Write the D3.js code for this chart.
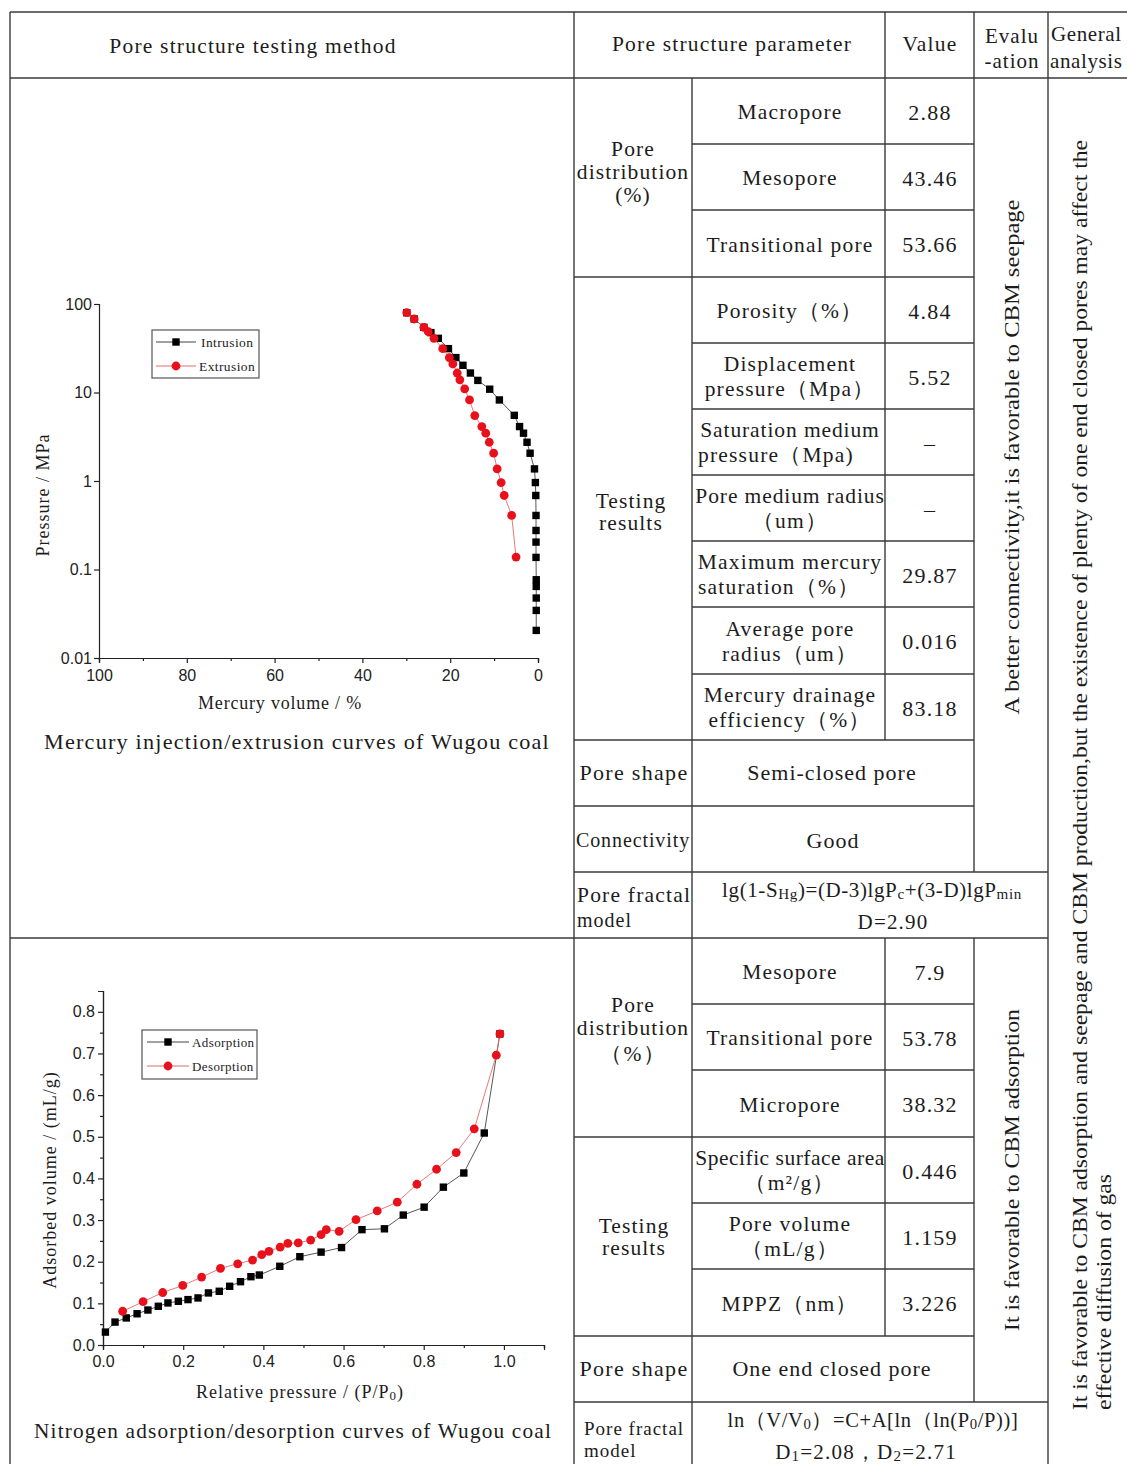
<!DOCTYPE html>
<html><head><meta charset="utf-8">
<script src="https://cdn.jsdelivr.net/npm/d3@7"></script>
<style>
body{margin:0;background:#fff}
svg text{font-family:"Liberation Serif","Times New Roman",serif;fill:#1c1c1c}
.tick text{font-family:"Liberation Sans",Arial,sans-serif;font-size:16px;fill:#222}
</style>
</head><body>
<svg id="fig" width="1127" height="1464"></svg>
<script>
// ---- Mercury injection / extrusion (Wugou coal) ----
const intrusionVolume   = [29.9, 28.2, 26.0, 24.4, 22.7, 20.4, 18.7, 17.1, 15.4, 13.7, 11.0, 8.8, 5.4, 4.2, 3.3, 2.5, 1.8, 0.8, 0.6, 0.5, 0.45, 0.45, 0.45, 0.45, 0.4, 0.4, 0.4, 0.4, 0.4];
const intrusionPressure = [79.8, 67.7, 54.5, 47.5, 40.9, 31.3, 24.8, 20.3, 16.6, 13.7, 10.9, 8.24, 5.52, 4.12, 3.47, 2.74, 2.06, 1.37, 0.96, 0.686, 0.408, 0.276, 0.204, 0.137, 0.0766, 0.0644, 0.0476, 0.0345, 0.0205];
const extrusionVolume   = [29.9, 28.2, 26.0, 25.0, 23.7, 21.7, 20.2, 19.4, 18.4, 17.8, 16.7, 15.6, 14.4, 12.8, 11.9, 11.1, 10.1, 9.3, 8.4, 7.7, 6.0, 5.0];
const extrusionPressure = [79.8, 67.7, 54.5, 48.7, 40.9, 31.3, 24.8, 21.0, 16.6, 13.9, 11.0, 8.24, 5.49, 4.12, 3.47, 2.74, 2.06, 1.37, 0.96, 0.686, 0.408, 0.138];
const volumeTicks   = [100, 80, 60, 40, 20, 0];
const volumeMinor   = [90, 70, 50, 30, 10];
const pressureTicks = [0.01, 0.1, 1, 10, 100];
const pressureTickLabels = ["0.01", "0.1", "1", "10", "100"];

// ---- Nitrogen adsorption / desorption (Wugou coal) ----
const adsorptionP = [0.006,0.030,0.058,0.085,0.112,0.138,0.162,0.188,0.212,0.237,0.263,0.290,0.316,0.343,0.369,0.390,0.441,0.491,0.544,0.595,0.646,0.702,0.749,0.801,0.849,0.900,0.951,0.99];
const adsorptionV = [0.031,0.055,0.065,0.075,0.084,0.093,0.101,0.105,0.109,0.113,0.125,0.129,0.141,0.152,0.164,0.168,0.189,0.212,0.223,0.234,0.277,0.279,0.312,0.331,0.379,0.413,0.509,0.747];
const desorptionP = [0.99,0.981,0.926,0.881,0.832,0.783,0.734,0.684,0.631,0.589,0.557,0.544,0.518,0.487,0.461,0.442,0.414,0.396,0.373,0.336,0.293,0.246,0.199,0.149,0.100,0.049];
const desorptionV = [0.747,0.696,0.519,0.462,0.422,0.386,0.343,0.322,0.301,0.273,0.277,0.265,0.252,0.245,0.244,0.235,0.225,0.217,0.204,0.195,0.184,0.163,0.143,0.126,0.104,0.081];
const relPTicks  = [0, 0.2, 0.4, 0.6, 0.8, 1.0];
const relPMinor  = [0.1, 0.3, 0.5, 0.7, 0.9, 1.1];
const volTicks   = [0, 0.1, 0.2, 0.3, 0.4, 0.5, 0.6, 0.7, 0.8];
const volMinor   = [0.05, 0.15, 0.25, 0.35, 0.45, 0.55, 0.65, 0.75];

// ---- Table contents ----
const mercuryParams = [["Macropore"], ["Mesopore"], ["Transitional pore"], ["Porosity（%）"],
  ["Displacement", "pressure（Mpa）"], ["Saturation medium", "pressure（Mpa)"], ["Pore medium radius", "（um）"],
  ["Maximum mercury", "saturation（%）"], ["Average pore", "radius（um）"], ["Mercury drainage", "efficiency（%）"]];
const mercuryValues = ["2.88", "43.46", "53.66", "4.84", "5.52", "–", "–", "29.87", "0.016", "83.18"];
const nitrogenParams = [["Mesopore"], ["Transitional pore"], ["Micropore"], ["Specific surface area", "（m²/g）"],
  ["Pore volume", "（mL/g）"], ["MPPZ（nm）"]];
const nitrogenValues = ["7.9", "53.78", "38.32", "0.446", "1.159", "3.226"];

const svg = d3.select("#fig");
svg.append("rect").attr("width", 1127).attr("height", 1464).attr("fill", "#fff");

// ---------- table grid ----------
const R = [78,144,210,277,343,409,475,541,607,674,740,806,872,938,1004,1070,1137,1203,1269,1336,1402];
const grid = svg.append("g").attr("stroke", "#3a3a3a").attr("stroke-width", 1.4).attr("fill", "none");
function seg(x1, y1, x2, y2) { grid.append("line").attr("x1", x1).attr("y1", y1).attr("x2", x2).attr("y2", y2); }
seg(10, 12, 1127, 12); seg(10, 78, 1127, 78); seg(10, 938, 1048, 938);
seg(10, 12, 10, 1464); seg(574, 12, 574, 1464); seg(692, 78, 692, 1464);
seg(885, 12, 885, 740); seg(885, 938, 885, 1336);
seg(974, 12, 974, 872); seg(974, 938, 974, 1402);
seg(1048, 12, 1048, 1464);
[144, 210, 343, 409, 475, 541, 607, 674, 1004, 1070, 1203, 1269].forEach(y => seg(692, y, 974, y));
[277, 740, 806, 1137, 1336].forEach(y => seg(574, y, 974, y));
[872, 1402].forEach(y => seg(574, y, 1048, y));

// ---------- text helper ----------
function txt(g, x, y, s, o = {}) {
  const t = g.append("text").attr("x", x).attr("y", y)
    .attr("text-anchor", o.anchor || "middle").attr("dominant-baseline", "central")
    .attr("font-size", o.size || 21.5).attr("letter-spacing", o.ls == null ? 1.2 : o.ls).text(s);
  if (o.len) t.attr("textLength", o.len).attr("lengthAdjust", "spacingAndGlyphs");
  return t;
}
const T = svg.append("g");
txt(T, 253, 46, "Pore structure testing method");
txt(T, 732, 44, "Pore structure parameter");
txt(T, 930, 44, "Value");
txt(T, 1012, 36, "Evalu", {size: 21, ls: 1});
txt(T, 1012, 61, "-ation", {size: 21, ls: 1});
txt(T, 1051, 34, "General", {anchor: "start", size: 21, ls: 0.6});
txt(T, 1050, 61, "analysis", {anchor: "start", size: 21, ls: 0.6});

function paramRows(params, values, first) {
  params.forEach((lines, i) => {
    const y0 = R[first + i], y1 = R[first + i + 1], cy = (y0 + y1) / 2;
    if (lines.length === 1) txt(T, 790, cy + 1, lines[0]);
    else {
      const n = lines[0].length;
      txt(T, 790, cy - 12, lines[0], {ls: n > 19 ? 0.5 : n > 16 ? 0.9 : 1.2});
      const left = /Mpa\)|saturation/.test(lines[1]);
      if (left) txt(T, 698, cy + 13, lines[1], {anchor: "start"});
      else txt(T, 790, cy + 13, lines[1]);
    }
    txt(T, 930, cy + 1, values[i], {size: 22});
  });
}
paramRows(mercuryParams, mercuryValues, 0);
paramRows(nitrogenParams, nitrogenValues, 13);

// group labels
[["Pore", 149], ["distribution", 172], ["(%)", 195]].forEach(d => txt(T, 633, d[1], d[0], {ls: 1.1}));
txt(T, 631, 501, "Testing", {ls: 1.1}); txt(T, 631, 523, "results", {ls: 1.1});
txt(T, 634, 772, "Pore shape", {size: 22, ls: 1.3});
txt(T, 633, 840, "Connectivity", {size: 20, ls: 0.9});
txt(T, 832, 772, "Semi-closed pore", {size: 22, ls: 1});
txt(T, 833, 840, "Good", {size: 22, ls: 1});
txt(T, 577, 895, "Pore fractal", {anchor: "start", ls: 1.2});
txt(T, 577, 920, "model", {anchor: "start", size: 20, ls: 1});
[["Pore", 1005], ["distribution", 1028], ["（%）", 1054]].forEach(d => txt(T, 633, d[1], d[0], {ls: 1.1}));
txt(T, 634, 1226, "Testing", {ls: 1.1}); txt(T, 634, 1248, "results", {ls: 1.1});
txt(T, 634, 1368, "Pore shape", {size: 22, ls: 1.3});
txt(T, 832, 1368, "One end closed pore", {size: 22, ls: 1});
txt(T, 584, 1428, "Pore fractal", {anchor: "start", size: 19, ls: 1});
txt(T, 584, 1450, "model", {anchor: "start", size: 19, ls: 1});

// fractal formulas
function formula(x, y, parts, size, ls) {
  const t = T.append("text").attr("x", x).attr("y", y).attr("text-anchor", "middle")
    .attr("dominant-baseline", "central").attr("font-size", size).attr("letter-spacing", ls);
  parts.forEach(p => {
    const s = t.append("tspan").text(p[0]);
    if (p[1] === "sub") s.attr("baseline-shift", "-25%").attr("font-size", size * 0.72);
  });
}
formula(872, 890, [["lg(1-S"], ["Hg", "sub"], [")=(D-3)lgP"], ["c", "sub"], ["+(3-D)lgP"], ["min", "sub"]], 21, 0.6);
formula(893, 922, [["D=2.90"]], 21, 1.2);
formula(873, 1420, [["ln（V/V"], ["0", "sub"], ["）=C+A[ln（ln(P"], ["0", "sub"], ["/P))]"]], 20.5, 0.6);
formula(866, 1452, [["D"], ["1", "sub"], ["=2.08，D"], ["2", "sub"], ["=2.71"]], 21, 1.2);

// rotated evaluation / analysis texts
function vtxt(x, y, s, o) {
  const t = T.append("text").attr("transform", `translate(${x},${y}) rotate(-90)`)
    .attr("text-anchor", o.anchor || "middle").attr("dominant-baseline", "central")
    .attr("font-size", o.size).text(s);
  if (o.len) t.attr("textLength", o.len).attr("lengthAdjust", "spacingAndGlyphs");
}
vtxt(1012, 457, "A better connectivity,it is favorable to CBM  seepage", {size: 21, len: 515});
vtxt(1012, 1170, "It is favorable to CBM adsorption", {size: 21, len: 322});
vtxt(1079, 1410, "It is favorable to CBM adsorption and seepage and CBM production,but the existence of plenty of one end closed pores may affect the", {size: 22, anchor: "start", len: 1270});
vtxt(1103, 1410, "effective diffusion of gas", {size: 22, anchor: "start", len: 236});

// ---------- chart 1: mercury curves ----------
const c1 = svg.append("g");
const x1 = d3.scaleLinear().domain([100, 0]).range([99, 538]);
const y1 = d3.scaleLog().domain([0.01, 100]).range([658, 304]);
c1.append("g").attr("transform", "translate(0,658)")
  .call(d3.axisBottom(x1).tickValues(volumeTicks).tickSize(5).tickPadding(7).tickFormat(d3.format("d")));
c1.append("g").attr("transform", "translate(0,658)")
  .call(d3.axisBottom(x1).tickValues(volumeMinor).tickSize(3).tickFormat(""));
c1.append("g").attr("transform", "translate(99,0)")
  .call(d3.axisLeft(y1).tickValues(pressureTicks).tickSize(5).tickPadding(2)
    .tickFormat((d, i) => pressureTickLabels[i]));
c1.selectAll(".domain, .tick line").attr("stroke", "#222").attr("stroke-width", 1.2);

const line1 = d3.line().x(d => x1(d[0])).y(d => y1(d[1]));
const intr = intrusionVolume.map((v, i) => [v, intrusionPressure[i]]);
const extr = extrusionVolume.map((v, i) => [v, extrusionPressure[i]]);
c1.append("path").datum(intr).attr("d", line1).attr("fill", "none").attr("stroke", "#444").attr("stroke-width", 0.9);
c1.selectAll("rect.in").data(intr).join("rect").attr("class", "in")
  .attr("x", d => x1(d[0]) - 3.7).attr("y", d => y1(d[1]) - 3.7).attr("width", 7.4).attr("height", 7.4).attr("fill", "#000");
c1.append("path").datum(extr).attr("d", line1).attr("fill", "none").attr("stroke", "#e46a6a").attr("stroke-width", 0.9);
c1.selectAll("circle.ex").data(extr).join("circle").attr("class", "ex")
  .attr("cx", d => x1(d[0])).attr("cy", d => y1(d[1])).attr("r", 4.4).attr("fill", "#e8101a");

// legend
const lg1 = c1.append("g");
lg1.append("rect").attr("x", 152).attr("y", 330).attr("width", 107).attr("height", 48)
  .attr("fill", "#fff").attr("stroke", "#555").attr("stroke-width", 1.2);
lg1.append("line").attr("x1", 156).attr("x2", 196).attr("y1", 342).attr("y2", 342).attr("stroke", "#444");
lg1.append("rect").attr("x", 172.3).attr("y", 338.3).attr("width", 7.4).attr("height", 7.4).attr("fill", "#000");
lg1.append("line").attr("x1", 156).attr("x2", 196).attr("y1", 366).attr("y2", 366).attr("stroke", "#e46a6a");
lg1.append("circle").attr("cx", 176).attr("cy", 366).attr("r", 4.4).attr("fill", "#e8101a");
txt(lg1, 201, 342, "Intrusion", {anchor: "start", size: 13.5, ls: 0.4});
txt(lg1, 199, 366, "Extrusion", {anchor: "start", size: 13.5, ls: 0.4});

// axis titles and caption
T.append("text").attr("transform", "translate(43,495) rotate(-90)").attr("text-anchor", "middle")
  .attr("dominant-baseline", "central").attr("font-size", 18).attr("letter-spacing", 1).text("Pressure / MPa");
txt(T, 280, 703, "Mercury volume / %", {size: 18, ls: 0.8});
txt(T, 297, 741, "Mercury injection/extrusion curves of Wugou coal", {size: 22, len: 506});

// ---------- chart 2: nitrogen isotherms ----------
const c2 = svg.append("g");
const x2 = d3.scaleLinear().domain([0, 1.1]).range([103, 544]);
const y2 = d3.scaleLinear().domain([0, 0.85]).range([1345, 991]);
c2.append("g").attr("transform", "translate(0,1345)")
  .call(d3.axisBottom(x2).tickValues(relPTicks).tickSize(5).tickPadding(6).tickFormat(d3.format(".1f")));
c2.append("g").attr("transform", "translate(0,1345)")
  .call(d3.axisBottom(x2).tickValues(relPMinor).tickSize(3).tickFormat(""));
c2.append("g").attr("transform", "translate(103,0)")
  .call(d3.axisLeft(y2).tickValues(volTicks).tickSize(5).tickPadding(3).tickFormat(d3.format(".1f")));
c2.append("g").attr("transform", "translate(103,0)")
  .call(d3.axisLeft(y2).tickValues(volMinor).tickSize(3).tickFormat(""));
c2.selectAll(".domain, .tick line").attr("stroke", "#222").attr("stroke-width", 1.2);

const line2 = d3.line().x(d => x2(d[0])).y(d => y2(d[1]));
const ads = adsorptionP.map((p, i) => [p, adsorptionV[i]]);
const des = desorptionP.map((p, i) => [p, desorptionV[i]]);
c2.append("path").datum(ads).attr("d", line2).attr("fill", "none").attr("stroke", "#444").attr("stroke-width", 0.9);
c2.selectAll("rect.ad").data(ads).join("rect").attr("class", "ad")
  .attr("x", d => x2(d[0]) - 3.7).attr("y", d => y2(d[1]) - 3.7).attr("width", 7.4).attr("height", 7.4).attr("fill", "#000");
c2.append("path").datum(des).attr("d", line2).attr("fill", "none").attr("stroke", "#e46a6a").attr("stroke-width", 0.9);
c2.selectAll("circle.de").data(des).join("circle").attr("class", "de")
  .attr("cx", d => x2(d[0])).attr("cy", d => y2(d[1])).attr("r", 4.4).attr("fill", "#e8101a");

const lg2 = c2.append("g");
lg2.append("rect").attr("x", 142).attr("y", 1030).attr("width", 115).attr("height", 49)
  .attr("fill", "#fff").attr("stroke", "#555").attr("stroke-width", 1.2);
lg2.append("line").attr("x1", 147).attr("x2", 189).attr("y1", 1042).attr("y2", 1042).attr("stroke", "#444");
lg2.append("rect").attr("x", 164.3).attr("y", 1038.3).attr("width", 7.4).attr("height", 7.4).attr("fill", "#000");
lg2.append("line").attr("x1", 147).attr("x2", 189).attr("y1", 1066).attr("y2", 1066).attr("stroke", "#e46a6a");
lg2.append("circle").attr("cx", 168).attr("cy", 1066).attr("r", 4.4).attr("fill", "#e8101a");
txt(lg2, 192, 1042, "Adsorption", {anchor: "start", size: 13, ls: 0.4});
txt(lg2, 192, 1066, "Desorption", {anchor: "start", size: 13, ls: 0.4});

T.append("text").attr("transform", "translate(50,1180) rotate(-90)").attr("text-anchor", "middle")
  .attr("dominant-baseline", "central").attr("font-size", 18).attr("letter-spacing", 1).text("Adsorbed volume / (mL/g)");
formula(300, 1392, [["Relative pressure / (P/P"], ["0", "sub"], [")"]], 18, 1);
txt(T, 293, 1430, "Nitrogen adsorption/desorption curves of Wugou coal", {size: 22, len: 518});
</script>
</body></html>
